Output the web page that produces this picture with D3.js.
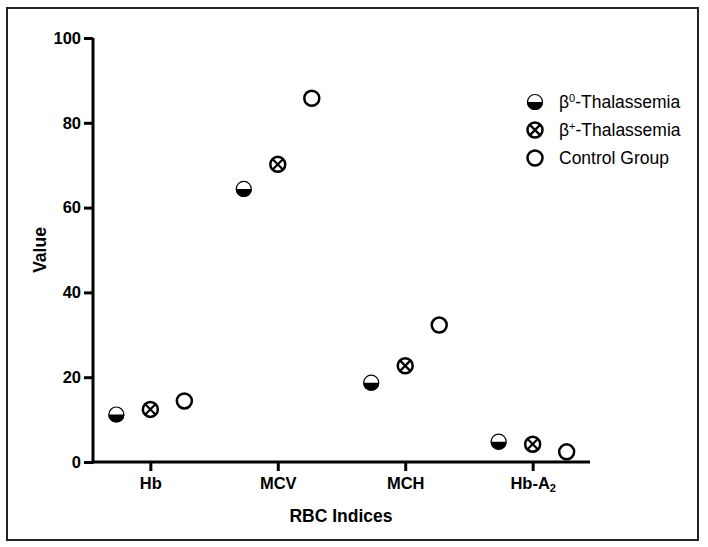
<!DOCTYPE html>
<html lang="en">
<head>
<meta charset="UTF-8">
<title>RBC Indices</title>
<style>
  body { margin: 0; background: #fff; }
  svg text { font-family: "Liberation Sans", Arial, sans-serif; fill: #000; }
</style>
</head>
<body>
<svg id="chart" width="708" height="547"></svg>
<script src="https://d3js.org/d3.v7.min.js"></script>
<script>
const categories = ["Hb", "MCV", "MCH", "Hb-A2"];
const groups = ["b0", "bplus", "control"];
const b0Values = [11.2, 64.4, 18.7, 4.8];
const bplusValues = [12.4, 70.2, 22.7, 4.2];
const controlValues = [14.4, 85.8, 32.3, 2.4];
const yTicks = [0, 20, 40, 60, 80, 100];

const svg = d3.select("#chart");
const margin = { top: 38, left: 93, right: 590, bottom: 462 };

// outer frame
svg.append("rect")
  .attr("x", 7).attr("y", 8).attr("width", 691).attr("height", 532)
  .attr("fill", "none").attr("stroke", "#222").attr("stroke-width", 2);

const x = d3.scalePoint().domain(categories).range([margin.left, margin.right]).padding(0.45);
const y = d3.scaleLinear().domain([0, 100]).range([margin.bottom, margin.top]);
const offset = d3.scalePoint().domain(groups).range([-34, 34]);

// axes
const yAxis = svg.append("g")
  .attr("transform", `translate(${margin.left},0)`)
  .call(d3.axisLeft(y).tickValues(yTicks).tickSize(9).tickPadding(3).tickSizeOuter(0));
const xAxis = svg.append("g")
  .attr("transform", `translate(0,${margin.bottom})`)
  .call(d3.axisBottom(x).tickSize(9).tickPadding(6).tickSizeOuter(0));

[xAxis, yAxis].forEach(g => {
  g.select(".domain").attr("stroke", "#000").attr("stroke-width", 3);
  g.selectAll(".tick line").attr("stroke", "#000").attr("stroke-width", 3);
  g.selectAll(".tick text")
    .attr("font-family", "Liberation Sans, Arial, sans-serif")
    .attr("font-size", 16.5).attr("font-weight", "bold").attr("fill", "#000");
});
// extend x-domain line to meet y axis cleanly
xAxis.select(".domain").attr("d", `M${margin.left - 1.5},0H${margin.right}`);
yAxis.select(".domain").attr("d", `M0,${margin.top}V${margin.bottom + 1.5}`);

// subscript on Hb-A2
xAxis.selectAll(".tick text").filter(d => d === "Hb-A2").each(function () {
  const t = d3.select(this).text("");
  t.append("tspan").text("Hb-A");
  t.append("tspan").text("2").attr("font-size", 11).attr("dy", 3);
});

// axis titles
svg.append("text")
  .attr("transform", `translate(46,${(margin.top + margin.bottom) / 2}) rotate(-90)`)
  .attr("text-anchor", "middle")
  .attr("font-size", 17.5).attr("font-weight", "bold")
  .text("Value");
svg.append("text")
  .attr("x", 341).attr("y", 522)
  .attr("text-anchor", "middle")
  .attr("font-size", 17.5).attr("font-weight", "bold")
  .text("RBC Indices");

const r = 7.5;
function drawMarker(g, type) {
  if (type === "b0") {
    g.append("circle").attr("r", r).attr("fill", "#fff").attr("stroke", "#000").attr("stroke-width", 1.2);
    g.append("path")
      .attr("d", `M${-r - 0.6},0A${r + 0.6},${r + 0.6} 0 0 0 ${r + 0.6},0Z`)
      .attr("fill", "#000");
  } else if (type === "bplus") {
    g.append("circle").attr("r", r).attr("fill", "#fff").attr("stroke", "#000").attr("stroke-width", 2.5);
    const k = r * 0.68;
    g.append("path")
      .attr("d", `M${-k},${-k}L${k},${k}M${-k},${k}L${k},${-k}`)
      .attr("stroke", "#000").attr("stroke-width", 2.2);
  } else {
    g.append("circle").attr("r", r).attr("fill", "#fff").attr("stroke", "#000").attr("stroke-width", 2.5);
  }
}

const series = [
  { key: "b0", values: b0Values },
  { key: "bplus", values: bplusValues },
  { key: "control", values: controlValues }
];

series.forEach(s => {
  s.values.forEach((v, i) => {
    const g = svg.append("g")
      .attr("transform", `translate(${x(categories[i]) + offset(s.key)},${y(v)})`);
    drawMarker(g, s.key);
  });
});

// legend
const legendItems = [
  { key: "b0", sup: "0", rest: "-Thalassemia" },
  { key: "bplus", sup: "+", rest: "-Thalassemia" },
  { key: "control", sup: null, rest: "Control Group" }
];
legendItems.forEach((d, i) => {
  const yy = 102 + i * 28;
  const g = svg.append("g").attr("transform", `translate(535,${yy})`);
  drawMarker(g, d.key);
  const t = svg.append("text")
    .attr("x", 559).attr("y", yy + 6)
    .attr("font-size", 17.5);
  if (d.sup) {
    t.append("tspan").text("β");
    t.append("tspan").text(d.sup).attr("font-size", 11).attr("dy", -6);
    t.append("tspan").text(d.rest).attr("dy", 6);
  } else {
    t.text(d.rest);
  }
});
</script>
</body>
</html>
